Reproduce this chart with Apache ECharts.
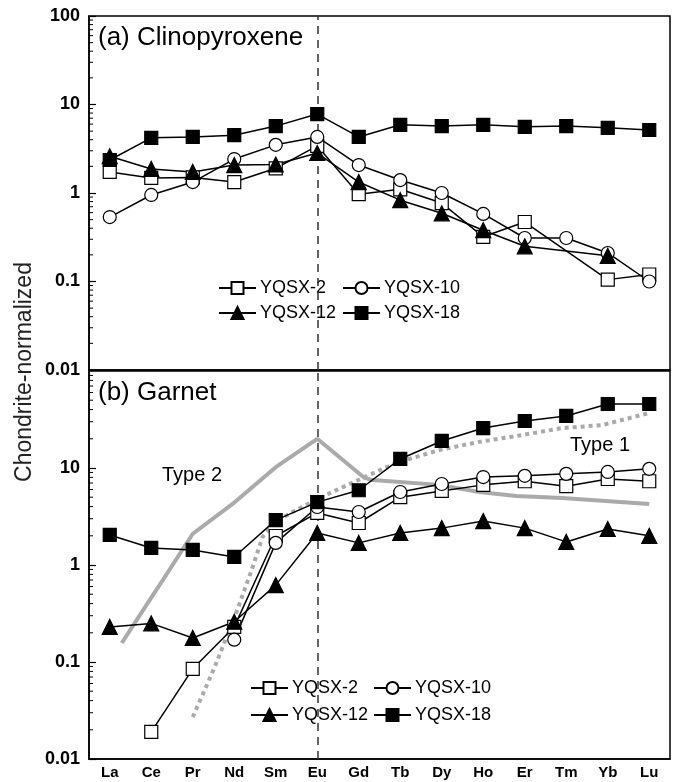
<!DOCTYPE html>
<html>
<head>
<meta charset="utf-8">
<script src="https://cdn.jsdelivr.net/npm/echarts@6/dist/echarts.min.js"></script>
<style>
  html, body { margin: 0; padding: 0; background: #fff; }
  #chart { width: 681px; height: 782px; }
</style>
</head>
<body>
<div id="chart"></div>
<script>
// REE elements (x axis)
const elements = ['La', 'Ce', 'Pr', 'Nd', 'Sm', 'Eu', 'Gd', 'Tb', 'Dy', 'Ho', 'Er', 'Tm', 'Yb', 'Lu']

// (a) clinopyroxene, chondrite-normalized
const cpx2  = [1.73, 1.48, 1.5, 1.33, 1.9, 3.4, 0.97, 1.1, 0.77, 0.32, 0.47, null, 0.105, 0.12]
const cpx10 = [0.535, 0.95, 1.33, 2.42, 3.5, 4.3, 2.07, 1.4, 1.0, 0.58, 0.31, 0.31, 0.21, 0.1]
const cpx12 = [2.6, 1.87, 1.73, 2.07, 2.1, 2.83, 1.33, 0.83, 0.59, 0.38, 0.25, null, 0.195, null]
const cpx18 = [2.36, 4.2, 4.3, 4.5, 5.7, 7.8, 4.3, 5.9, 5.7, 5.9, 5.6, 5.7, 5.45, 5.15]

// (b) garnet
const grt2  = [null, 0.019, 0.085, 0.23, 1.99, 3.44, 2.71, 5.0, 5.8, 6.7, 7.3, 6.5, 7.7, 7.3]
const grt10 = [null, null, null, 0.17, 1.69, 3.96, 3.52, 5.66, 6.84, 8.07, 8.3, 8.7, 9.1, 9.8]
const grt12 = [0.23, 0.25, 0.177, 0.26, 0.62, 2.14, 1.69, 2.14, 2.4, 2.84, 2.4, 1.73, 2.35, 2.0]
const grt18 = [2.04, 1.5, 1.43, 1.21, 2.9, 4.45, 5.9, 12.4, 19, 25.8, 30.5, 34.4, 45.7, 45.7]

// reference garnet curves, [element position, value]
const type2 = [[0.29, 0.157], [1, 0.46], [1.28, 0.7], [2, 2.1], [3, 4.4], [4, 10.2], [5, 20], [6.14, 7.9],
  [6.33, 7.5], [7.94, 6.7], [8.9, 5.66], [9.8, 5.14], [10.9, 4.9], [13, 4.25]]
const type1 = [[2, 0.027], [2.53, 0.089], [3.08, 0.35], [3.42, 0.89], [3.68, 1.94], [4, 2.8], [4.5, 3.7],
  [5.06, 4.9], [5.3, 5.5], [6.1, 7.9], [6.9, 11.3], [7.94, 15.3], [8.9, 18.6], [9.95, 21.9],
  [10.9, 25.8], [11.87, 27.7], [13, 36.9]]

// log minor tick values
const minorTicks = [2, 3, 4, 5, 6, 7, 8, 9].flatMap(m => [0.01, 0.1, 1, 10].map(d => +(m * d).toPrecision(2)))

const chart = echarts.init(document.getElementById('chart'))

const sym = {
    'YQSX-2': { symbol: 'rect', fill: '#fff' },
    'YQSX-10': { symbol: 'circle', fill: '#fff' },
    'YQSX-12': { symbol: 'triangle', fill: '#000' },
    'YQSX-18': { symbol: 'rect', fill: '#000' }
}

function sample(name, data, idx) {
    return {
        name: name,
        type: 'line',
        xAxisIndex: idx,
        yAxisIndex: idx,
        data: data,
        connectNulls: true,
        symbol: sym[name].symbol,
        symbolSize: sym[name].symbol === 'triangle' ? 15 : 13,
        showAllSymbol: true,
        lineStyle: { color: '#000', width: 1.5 },
        itemStyle: { color: sym[name].fill, borderColor: '#000', borderWidth: 1.2 },
        z: 5
    }
}

// short inward ticks at 2..9 x 10^n on the left axis
function minorSeries(idx) {
    return {
        type: 'custom',
        xAxisIndex: idx,
        yAxisIndex: idx,
        silent: true,
        clip: false,
        z: 10,
        data: minorTicks.map(v => [0, v]),
        renderItem: function (params, api) {
            const p = api.coord([0, api.value(1)])
            const left = params.coordSys.x
            return {
                type: 'line',
                shape: { x1: left, y1: p[1], x2: left + 4, y2: p[1] },
                style: { stroke: '#000', lineWidth: 1 }
            }
        }
    }
}

const euLine = {
    silent: true,
    symbol: ['none', 'none'],
    label: { show: false },
    lineStyle: { color: '#333', type: [8, 6], width: 1.5 },
    data: [{ xAxis: 'Eu' }]
}

const yAxisBase = {
    type: 'log',
    logBase: 10,
    min: 0.01,
    max: 100,
    axisLine: { show: true, onZero: false, lineStyle: { color: '#000', width: 1.5 } },
    axisTick: { show: true, inside: true, length: 7, lineStyle: { color: '#000', width: 1.2 } },
    axisLabel: {
        color: '#000', fontSize: 18, fontWeight: 'bold', fontFamily: 'Liberation Sans', margin: 9,
        formatter: v => String(Number(v.toPrecision(3)))
    },
    splitLine: { show: false }
}

const legendBase = {
    orient: 'vertical',
    padding: 0,
    itemWidth: 37,
    itemHeight: 15,
    selectedMode: false,
    textStyle: { color: '#000', fontSize: 18, fontFamily: 'Liberation Sans', padding: [0, 0, 0, -1] }
}

const option = {
    animation: false,
    backgroundColor: '#fff',
    grid: [
        { left: 89, top: 16, width: 581, height: 354, show: true, borderColor: '#000', borderWidth: 1.5, outerBoundsMode: 'none' },
        { left: 89, top: 371, width: 581, height: 388, show: true, borderColor: '#000', borderWidth: 1.5, outerBoundsMode: 'none' }
    ],
    xAxis: [
        {
            type: 'category', gridIndex: 0, data: elements, boundaryGap: true,
            axisLine: { lineStyle: { color: '#000', width: 1.5 } },
            axisTick: { inside: true, length: 6, lineStyle: { color: '#000', width: 1.2 } },
            axisLabel: { show: false }
        },
        {
            type: 'category', gridIndex: 1, data: elements, boundaryGap: true,
            axisLine: { lineStyle: { color: '#000', width: 1.5 } },
            axisTick: { inside: true, length: 6, lineStyle: { color: '#000', width: 1.2 } },
            axisLabel: { color: '#000', fontSize: 15, fontWeight: 'bold', fontFamily: 'Liberation Sans', margin: 6, interval: 0 }
        },
        { type: 'value', gridIndex: 1, min: -0.5, max: 13.5, show: false }
    ],
    yAxis: [
        Object.assign({ gridIndex: 0 }, yAxisBase),
        Object.assign({ gridIndex: 1 }, yAxisBase, {
            axisLabel: Object.assign({}, yAxisBase.axisLabel, { showMaxLabel: false })
        })
    ],
    legend: [
        Object.assign({ left: 218, top: 279, itemGap: 7, data: ['YQSX-2', 'YQSX-12'] }, legendBase),
        Object.assign({ left: 342, top: 279, itemGap: 7, data: ['YQSX-10', 'YQSX-18'] }, legendBase),
        Object.assign({ left: 250, top: 679, itemGap: 9, data: ['YQSX-2', 'YQSX-12'] }, legendBase),
        Object.assign({ left: 373, top: 679, itemGap: 9, data: ['YQSX-10', 'YQSX-18'] }, legendBase)
    ],
    graphic: [
        { type: 'text', x: 98, y: 25, style: { text: '(a) Clinopyroxene', fontSize: 26, fontFamily: 'Liberation Sans', fill: '#000' } },
        { type: 'text', x: 98, y: 380, style: { text: '(b) Garnet', fontSize: 26, fontFamily: 'Liberation Sans', fill: '#000' } },
        { type: 'text', x: 162, y: 465, style: { text: 'Type 2', fontSize: 20, fontFamily: 'Liberation Sans', fill: '#000' } },
        { type: 'text', x: 570, y: 435, style: { text: 'Type 1', fontSize: 20, fontFamily: 'Liberation Sans', fill: '#000' } },
        {
            type: 'text', x: 25, y: 372, rotation: Math.PI / 2,
            style: { text: 'Chondrite-normalized', fontSize: 23, fontFamily: 'Liberation Sans', fill: '#222', align: 'center', verticalAlign: 'middle' }
        }
    ],
    series: [
        Object.assign(sample('YQSX-2', cpx2, 0), { markLine: euLine }),
        sample('YQSX-10', cpx10, 0),
        sample('YQSX-12', cpx12, 0),
        sample('YQSX-18', cpx18, 0),
        {
            name: 'Type 2', type: 'line', xAxisIndex: 2, yAxisIndex: 1, data: type2,
            symbol: 'none', silent: true, z: 1,
            lineStyle: { color: '#aaa', width: 4 }
        },
        {
            name: 'Type 1', type: 'line', xAxisIndex: 2, yAxisIndex: 1, data: type1,
            symbol: 'none', silent: true, z: 1,
            lineStyle: { color: '#aaa', width: 4, type: [4, 4] }
        },
        Object.assign(sample('YQSX-2', grt2, 1), { markLine: euLine }),
        sample('YQSX-10', grt10, 1),
        sample('YQSX-12', grt12, 1),
        sample('YQSX-18', grt18, 1),
        minorSeries(0),
        minorSeries(1)
    ]
}

chart.setOption(option)
</script>
</body>
</html>
